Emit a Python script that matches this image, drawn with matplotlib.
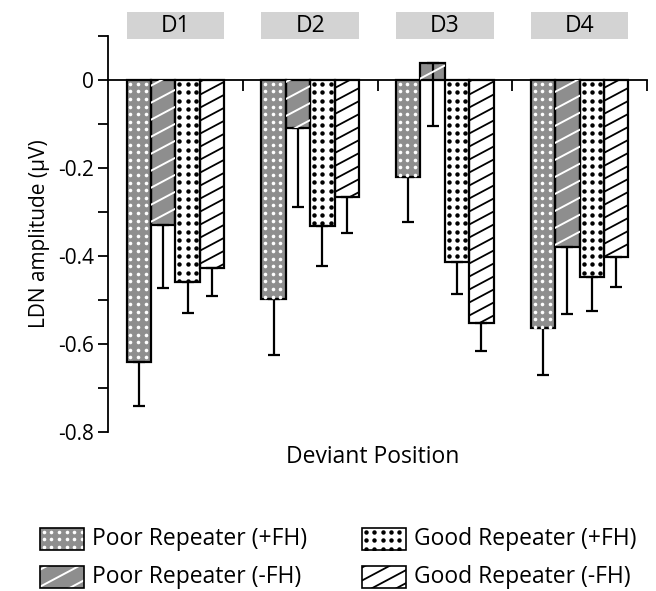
import matplotlib
matplotlib.use("Agg")
import matplotlib.pyplot as plt
import numpy as np
from matplotlib.patches import Rectangle
from matplotlib.lines import Line2D
import matplotlib.transforms as mtransforms

plt.rcParams['font.family'] = ['Open Sans', 'DejaVu Sans']

groups = ["D1", "D2", "D3", "D4"]
series = ["Poor Repeater (+FH)", "Poor Repeater (-FH)", "Good Repeater (+FH)", "Good Repeater (-FH)"]
poor_plus = [-0.641, -0.498, -0.221, -0.563]
poor_minus = [-0.330, -0.110, 0.038, -0.380]
good_plus = [-0.459, -0.332, -0.413, -0.448]
good_minus = [-0.427, -0.265, -0.552, -0.402]
poor_plus_err = [0.100, 0.127, 0.101, 0.107]
poor_minus_err = [0.143, 0.179, 0.143, 0.152]
good_plus_err = [0.070, 0.090, 0.073, 0.077]
good_minus_err = [0.063, 0.082, 0.064, 0.069]

values = [poor_plus, poor_minus, good_plus, good_minus]
errors = [poor_plus_err, poor_minus_err, good_plus_err, good_minus_err]

GREY = '#8e8e8e'
styles = [
    dict(face=GREY, kind='dots', color='white', sp=7.6, ms=2.6),
    dict(face=GREY, kind='lines', color='white', sp=17.0, lw=1.4),
    dict(face='white', kind='dots', color='black', sp=8.2, ms=3.2),
    dict(face='white', kind='lines', color='black', sp=13.0, lw=1.3),
]
ANGLE = np.deg2rad(28)
ident = mtransforms.IdentityTransform()


def add_pattern(fig, patch, st):
    bb = patch.get_window_extent()
    x0, x1 = bb.x0, bb.x1
    y0, y1 = bb.y0, bb.y1
    arts = []
    if st['kind'] == 'dots':
        sp = st['sp']
        xs = np.arange(x0 + sp / 2, x1, sp)
        ys = np.arange(y1 - sp / 2, y0, -sp)
        if len(xs) and len(ys):
            X, Y = np.meshgrid(xs, ys)
            ln = Line2D(X.ravel(), Y.ravel(), linestyle='none', marker='o',
                        markersize=st['ms'], markerfacecolor=st['color'],
                        markeredgewidth=0, transform=ident)
            arts.append(ln)
    else:
        t = np.tan(ANGLE)
        d = st['sp']
        cmin = y0 - x1 * t
        cmax = y1 - x0 * t
        cs = np.arange(np.floor(cmin / d) * d, cmax + d, d)
        for c in cs:
            ln = Line2D([x0 - 2, x1 + 2], [c + (x0 - 2) * t, c + (x1 + 2) * t],
                        color=st['color'], linewidth=st['lw'], transform=ident)
            arts.append(ln)
    for a in arts:
        a.set_clip_path(patch)
        a.set_zorder(2.5)
        fig.add_artist(a)


fig = plt.figure(figsize=(6.56, 5.91), dpi=100)
ax = fig.add_axes([108/656, 1-432/591, (647-108)/656, (432-36)/591])

x = np.arange(len(groups))
w = 0.181
offsets = (np.arange(4) - 1.5) * w

ax.set_xlim(-0.5, 3.5)
ax.set_ylim(-0.8, 0.1)

for vals, errs, st, off in zip(values, errors, styles, offsets):
    bars = ax.bar(x + off, vals, w, color=st['face'], edgecolor='none', linewidth=0, zorder=2)
    ax.bar(x + off, vals, w, fill=False, edgecolor='black', linewidth=1.6, zorder=3)
    for b in bars:
        add_pattern(fig, b, st)
    ax.errorbar(x + off, vals, yerr=[errs, [0]*len(errs)], fmt='none', ecolor='black',
                elinewidth=1.6, capsize=4, capthick=1.6, zorder=4)

ax.spines['top'].set_visible(False)
ax.spines['right'].set_visible(False)
ax.spines['bottom'].set_position(('data', 0))
ax.spines['bottom'].set_linewidth(1.3)
ax.spines['left'].set_linewidth(1.3)
ax.spines['bottom'].set_zorder(5)

ax.set_xticks([0.5, 1.5, 2.5, 3.5])
ax.set_xticklabels([])
ax.tick_params(axis='x', direction='out', length=8, width=1.3)

ax.set_yticks([0, -0.2, -0.4, -0.6, -0.8])
ax.set_yticklabels(['0', '-0.2', '-0.4', '-0.6', '-0.8'])
ax.set_yticks([0.1, -0.1, -0.3, -0.5, -0.7], minor=True)
ax.tick_params(axis='y', which='both', direction='out', length=7, width=1.3, labelsize=15, pad=3)

ax.set_ylabel('LDN amplitude (\u03bcV)', fontsize=15, labelpad=6)
fig.text(373/656, 1-457/591, 'Deviant Position', ha='center', va='center', fontsize=16.5)

trans = mtransforms.blended_transform_factory(ax.transData, ax.transAxes)
for xi, g in zip(x, groups):
    left = xi + offsets[0] - w/2
    rect = Rectangle((left, (432-39)/396), 4*w, (39-12)/396, transform=trans,
                     facecolor='#d3d3d3', edgecolor='none', clip_on=False, zorder=1)
    ax.add_patch(rect)
    ax.text(xi, (432-26)/396, g, transform=trans, ha='center', va='center', fontsize=16.5)

# legend (two columns, two rows)
leg_pos = [(40, 539), (40, 577), (362, 539), (362, 577)]
HW, HH = 44, 22
for (px, py), st, lab in zip(leg_pos, styles, series):
    r = Rectangle((px/656, 1-(py+HH/2)/591), HW/656, HH/591, transform=fig.transFigure,
                  facecolor=st['face'], edgecolor='none', zorder=2)
    fig.add_artist(r)
    add_pattern(fig, r, st)
    ro = Rectangle((px/656, 1-(py+HH/2)/591), HW/656, HH/591, transform=fig.transFigure,
                   fill=False, edgecolor='black', linewidth=1.2, zorder=3)
    fig.add_artist(ro)
    fig.text((px+HW+8)/656, 1-py/591, lab, ha='left', va='center', fontsize=16.5)

fig.savefig('out.png', dpi=100)
